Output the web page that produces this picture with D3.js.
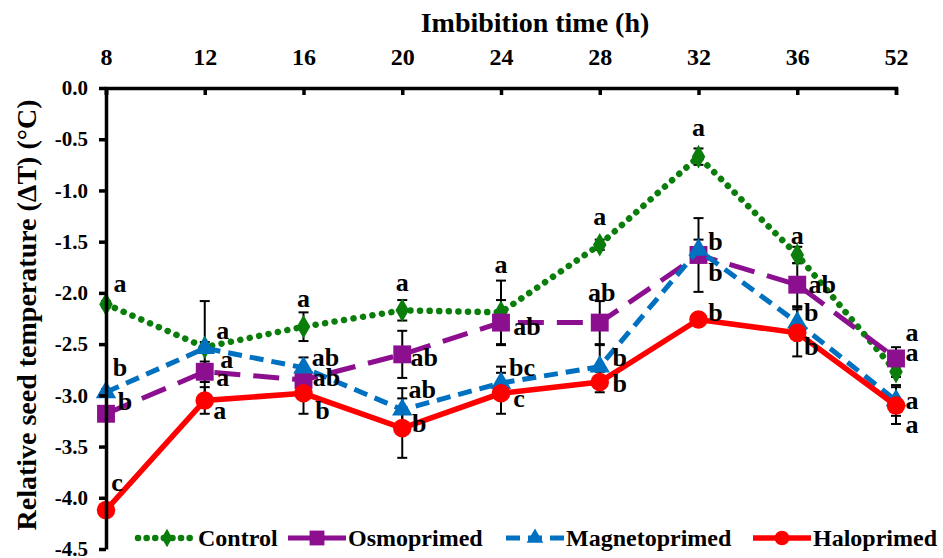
<!DOCTYPE html>
<html>
<head>
<meta charset="utf-8">
<script src="https://cdn.jsdelivr.net/npm/d3@7"></script>
<style>
  body { margin: 0; background: #fff; }
  svg text { font-family: "Liberation Serif", "DejaVu Serif", serif; font-weight: bold; fill: #000; }
</style>
</head>
<body>
<script>
// imbibition times (h)
const times = ["8", "12", "16", "20", "24", "28", "32", "36", "52"];
const yTicks = [0, -0.5, -1, -1.5, -2, -2.5, -3, -3.5, -4, -4.5];

// mean relative seed temperature (dT, degC)
const control = [-2.11, -2.53, -2.33, -2.17, -2.19, -1.53, -0.67, -1.63, -2.77];
const osmoprimed = [-3.18, -2.77, -2.85, -2.60, -2.29, -2.29, -1.63, -1.92, -2.64];
const magnetoprimed = [-2.97, -2.54, -2.73, -3.14, -2.88, -2.72, -1.58, -2.29, -3.05];
const haloprimed = [-4.12, -3.05, -2.98, -3.32, -2.98, -2.87, -2.26, -2.39, -3.10];

// error bars (SD)
const controlErr = [0.03, 0.05, 0.14, 0.10, 0.31, 0.05, 0.08, 0.08, 0.05];
const osmoErr = [0.03, 0.10, 0.05, 0.23, 0.22, 0.21, 0.36, 0.21, 0.11];
const magnetoErr = [0.03, 0.46, 0.10, 0.21, 0.16, 0.21, 0.10, 0.15, 0.15];
const haloErr = [0.03, 0.13, 0.20, 0.29, 0.20, 0.10, 0.05, 0.23, 0.18];

// significance letters
const controlLetters = ["a", "a", "a", "a", "a", "a", "a", "a", "a"];
const osmoLetters = ["b", "a", "ab", "ab", "ab", "ab", "b", "ab", "a"];
const magnetoLetters = ["b", "a", "ab", "ab", "bc", "b", "b", "b", "a"];
const haloLetters = ["c", "a", "b", "b", "c", "b", "b", "b", "a"];

// where each letter sits next to its point (dx, dy in px)
const controlLabelPos = [[14, -21], [18, -17], [0, -28], [0, -28], [0, -48], [0, -28], [0, -29], [0, -19], [16, -39]];
const osmoLabelPos = [[19, -12], [18, 6], [23, -2], [22, 3], [26, 4], [2, -30], [17, 18], [25, 0], [16, -6]];
const magnetoLabelPos = [[14, -25], [22, 11], [22, -10], [20, -20], [21, -16], [20, -9], [17, -8], [14, -10], [16, 0]];
const haloLabelPos = [[11, -28], [15, 10], [19, 17], [17, -5], [18, 5], [20, 1], [17, -7], [14, 14], [16, 19]];

const series = [
  { name: "Control", values: control, err: controlErr, letters: controlLetters, pos: controlLabelPos,
    color: "#0a7d0a", dash: "0.1 9.5", width: 6.5, cap: "round", legDash: "0.1 8.5",
    symbol: d3.symbolDiamond, size: 160, lsize: 100 },
  { name: "Osmoprimed", values: osmoprimed, err: osmoErr, letters: osmoLetters, pos: osmoLabelPos,
    color: "#8b0f8f", dash: "26 13", width: 5, cap: "butt", legDash: "26 10",
    symbol: d3.symbolSquare, size: 320, lsize: 220 },
  { name: "Magnetoprimed", values: magnetoprimed, err: magnetoErr, letters: magnetoLetters, pos: magnetoLabelPos,
    color: "#0070c0", dash: "14 8", width: 5, cap: "butt", legDash: "14 8",
    symbol: d3.symbolTriangle, size: 180, lsize: 120 },
  { name: "Haloprimed", values: haloprimed, err: haloErr, letters: haloLetters, pos: haloLabelPos,
    color: "#ff0000", dash: null, width: 5.5, cap: "butt", legDash: null,
    symbol: d3.symbolCircle, size: 270, lsize: 170 }
];

// legend layout: where each sample line starts
const legendX = [138, 288, 506, 753];

const width = 943, height = 558;
const svg = d3.select("body").append("svg")
  .attr("width", width)
  .attr("height", height);

const x = d3.scalePoint().domain(times).range([106, 896]);
const y = d3.scaleLinear().domain([-4.5, 0]).range([549, 88]);

// error bars first, markers sit on top
const errG = svg.append("g");
series.forEach(s => {
  s.values.forEach((v, i) => {
    const cx = x(times[i]);
    const y0 = y(v - s.err[i]), y1 = y(v + s.err[i]);
    errG.append("line").attr("x1", cx).attr("x2", cx).attr("y1", y0).attr("y2", y1)
      .attr("stroke", "#000").attr("stroke-width", 2);
    [y0, y1].forEach(yy => {
      errG.append("line").attr("x1", cx - 5).attr("x2", cx + 5).attr("y1", yy).attr("y2", yy)
        .attr("stroke", "#000").attr("stroke-width", 2);
    });
  });
});

const line = d3.line()
  .x((d, i) => x(times[i]))
  .y(d => y(d));

series.forEach(s => {
  const g = svg.append("g");
  g.append("path")
    .datum(s.values)
    .attr("d", line)
    .attr("fill", "none")
    .attr("stroke", s.color)
    .attr("stroke-width", s.width)
    .attr("stroke-linecap", s.cap)
    .attr("stroke-dasharray", s.dash);
  g.selectAll("path.pt")
    .data(s.values)
    .enter().append("path")
    .attr("class", "pt")
    .attr("d", d3.symbol().type(s.symbol).size(s.size))
    .attr("transform", (d, i) => "translate(" + x(times[i]) + "," + y(d) + ")")
    .attr("fill", s.color);
});

// significance letters
series.forEach(s => {
  svg.append("g").selectAll("text")
    .data(s.values)
    .enter().append("text")
    .attr("x", (d, i) => x(times[i]) + s.pos[i][0])
    .attr("y", (d, i) => y(d) + s.pos[i][1])
    .attr("text-anchor", "middle")
    .attr("dominant-baseline", "central")
    .style("font-size", "26px")
    .text((d, i) => s.letters[i]);
});

// top x axis
const xAxis = svg.append("g")
  .attr("transform", "translate(0,88)")
  .call(d3.axisTop(x).tickSizeInner(-7).tickSizeOuter(-7).tickPadding(23));
xAxis.select(".domain").attr("stroke-width", 3.5);
xAxis.selectAll(".tick line").attr("stroke-width", 3.5);
xAxis.selectAll("text").style("font-size", "24px");

// left y axis
const yAxis = svg.append("g")
  .attr("transform", "translate(106,0)")
  .call(d3.axisLeft(y).tickValues(yTicks).tickFormat(d => d.toFixed(1)).tickSizeInner(7).tickSizeOuter(0).tickPadding(11));
yAxis.select(".domain").attr("stroke-width", 3.5);
yAxis.selectAll(".tick line").attr("stroke-width", 3.5);
yAxis.selectAll("text").style("font-size", "21px");

// axis titles
svg.append("text")
  .attr("x", 535).attr("y", 32)
  .attr("text-anchor", "middle")
  .style("font-size", "28px")
  .text("Imbibition time (h)");

svg.append("text")
  .attr("transform", "translate(36,315) rotate(-90)")
  .attr("text-anchor", "middle")
  .style("font-size", "28px")
  .text("Relative seed temperature (\u0394T) (\u00B0C)");

// legend
const legend = svg.append("g").attr("transform", "translate(0,538)");
series.forEach((s, k) => {
  const lx = legendX[k];
  const item = legend.append("g");
  item.append("line")
    .attr("x1", lx).attr("x2", lx + 58)
    .attr("stroke", s.color).attr("stroke-width", s.width)
    .attr("stroke-linecap", s.cap)
    .attr("stroke-dasharray", s.legDash);
  item.append("path")
    .attr("d", d3.symbol().type(s.symbol).size(s.lsize))
    .attr("transform", "translate(" + (lx + 29) + ",0)")
    .attr("fill", s.color);
  item.append("text")
    .attr("x", lx + 60).attr("y", 0)
    .attr("dominant-baseline", "central")
    .style("font-size", "24px")
    .text(s.name);
});
</script>
</body>
</html>
